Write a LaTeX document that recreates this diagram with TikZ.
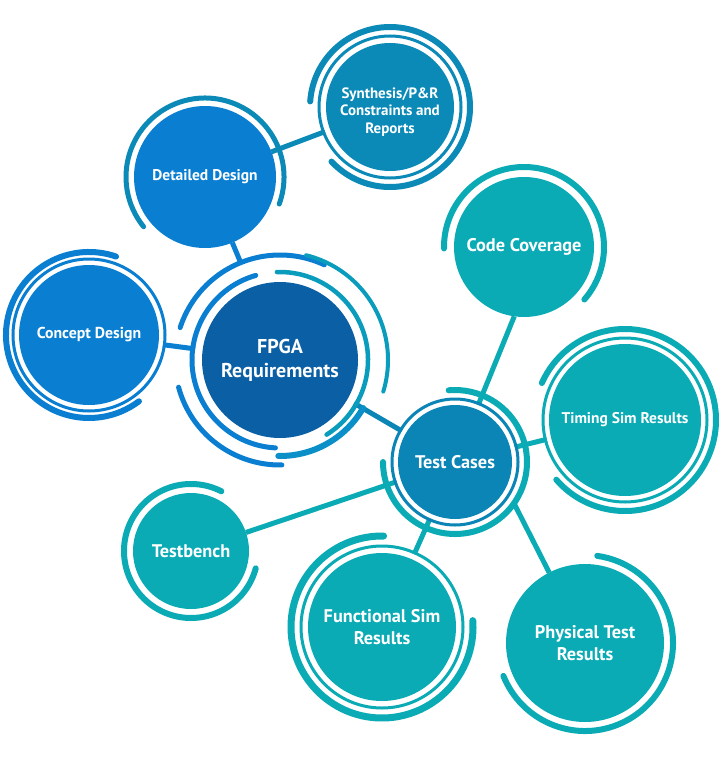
\documentclass[tikz,border=0pt]{standalone}
\usepackage{fontspec}
\setmainfont{PT Sans}
\usetikzlibrary{calc}
\definecolor{fpgablue}{HTML}{0B5FA4}
\definecolor{brightblue}{HTML}{0A7FD1}
\definecolor{synblue}{HTML}{0B8AB7}
\definecolor{tcblue}{HTML}{0A85B5}
\definecolor{tealc}{HTML}{0AABB5}
\definecolor{teal2}{HTML}{0A9CBC}
\definecolor{midblue}{HTML}{0A8FC8}
\pgfdeclarelayer{lines}
\pgfdeclarelayer{halo}
\pgfsetlayers{lines,halo,main}
\newcommand\ringarc[5]{\draw[#5] ($(#1)+(#3:#2pt)$) arc[start angle=#3, end angle=#4, radius=#2pt];}
\tikzset{
  base/.style={circle, inner sep=0pt, outer sep=0pt, text=white, align=center,
    font=\bfseries\fontsize{15.5}{19}\selectfont},
  big/.style={font=\bfseries\fontsize{18.3}{22}\selectfont},
  ring/.style={line cap=round, line width=#1pt},
  conn/.style={line width=5pt},
}
\begin{document}
\begin{tikzpicture}[x=1pt,y=1pt]
\begin{pgfonlayer}{lines}
\fill[white] (0,0) rectangle (720,-760);
\end{pgfonlayer}
\useasboundingbox (0,0) rectangle (720,-760);

% nodes
\node[base, fill=fpgablue, minimum size=156pt, font=\bfseries\fontsize{20}{24}\selectfont] (fpga) at (280,-360) {FPGA\\Requirements};
\node[base, fill=brightblue, minimum size=142pt] (dd) at (205,-177) {Detailed Design};
\node[base, fill=synblue, minimum size=128pt, font=\bfseries\fontsize{15}{17.5}\selectfont] (syn) at (390,-107) {\raisebox{-9pt}[0pt][0pt]{\begin{tabular}{@{}c@{}}Synthesis/P\&R\\Constraints and\\Reports\end{tabular}}};
\node[base, fill=brightblue, minimum size=140pt, font=\bfseries\fontsize{15.8}{19}\selectfont] (cd) at (89,-335) {Concept Design};
\node[base, big, fill=tealc, minimum size=140pt] (cc) at (524,-247) {Code Coverage};
\node[base, big, fill=tcblue, minimum size=114pt] (tc) at (455,-462) {Test Cases};
\node[base, fill=tealc, minimum size=152pt] (ts) at (625,-420) {Timing Sim Results};
\node[base, big, fill=tealc, minimum size=116pt] (tb) at (191,-551) {Testbench};
\node[base, big, fill=tealc, minimum size=148pt] (fs) at (382,-627) {Functional Sim\\Results};
\node[base, big, fill=tealc, minimum size=158pt] (pt) at (585,-643) {Physical Test\\Results};

\coordinate (fpgaTop) at ($(fpga)+(112:105pt)$);
\coordinate (tcPT) at ($(tc)+(-35:72pt)$);

% connectors
\begin{pgfonlayer}{lines}
\draw[conn, brightblue] (dd) -- (fpgaTop);
\draw[conn, synblue] (dd) -- (syn);
\draw[conn, brightblue] (cd) -- (fpga);
\draw[conn, tcblue] (fpga) -- (tc);
\draw[conn, tealc] (cc.-98) -- (tc);
\draw[conn, tealc] (tc) -- (ts);
\draw[conn, tealc] (tc) -- (tb);
\draw[conn, tealc] (tc) -- (fs);
\draw[conn, tealc] (tcPT) -- (pt);
\end{pgfonlayer}

% halos
\begin{pgfonlayer}{halo}
\fill[white] (fpga) circle[radius=85.5pt];
\fill[white] (syn) circle[radius=69.5pt];
\fill[white] (cd) circle[radius=74.5pt];
\fill[white] (tc) circle[radius=61.5pt];
\fill[white] (ts) circle[radius=80.5pt];
\fill[white] (fs) circle[radius=79.5pt];
\end{pgfonlayer}

% FPGA rings
\ringarc{fpga}{88}{106}{267}{ring=5, brightblue}
\ringarc{fpga}{88}{-58}{92}{ring=4.5, teal2}
\ringarc{fpga}{105}{65}{162}{ring=5, brightblue}
\ringarc{fpga}{105}{195}{271}{ring=5, brightblue}
\ringarc{fpga}{108}{-17}{76}{ring=4, teal2}
\ringarc{fpga}{96}{-91}{-30}{ring=6, midblue}

% Detailed Design
\ringarc{dd}{79}{-20}{219}{ring=5, synblue}
% Synthesis
\draw[synblue, line width=3pt] (syn) circle[radius=71pt];
\ringarc{syn}{80}{-137}{176}{ring=6, synblue}
% Concept
\draw[brightblue, line width=3pt] (cd) circle[radius=76pt];
\ringarc{cd}{83}{71}{307}{ring=6, brightblue}
% Code coverage
\ringarc{cc}{80}{-41}{181}{ring=6, tealc}
% Test cases
\draw[tcblue, line width=3pt] (tc) circle[radius=63pt];
\ringarc{tc}{72}{180}{455}{ring=6, tealc}
% Timing
\draw[tealc, line width=3pt] (ts) circle[radius=82pt];
\ringarc{ts}{91}{-139}{156}{ring=6, tealc}
% Testbench
\ringarc{tb}{67}{63}{345}{ring=6, tealc}
% Functional
\draw[tealc, line width=3pt] (fs) circle[radius=81pt];
\ringarc{fs}{91}{89}{364}{ring=7, tealc}
% Physical
\ringarc{pt}{88}{-158}{82}{ring=6, tealc}
\end{tikzpicture}
\end{document}
